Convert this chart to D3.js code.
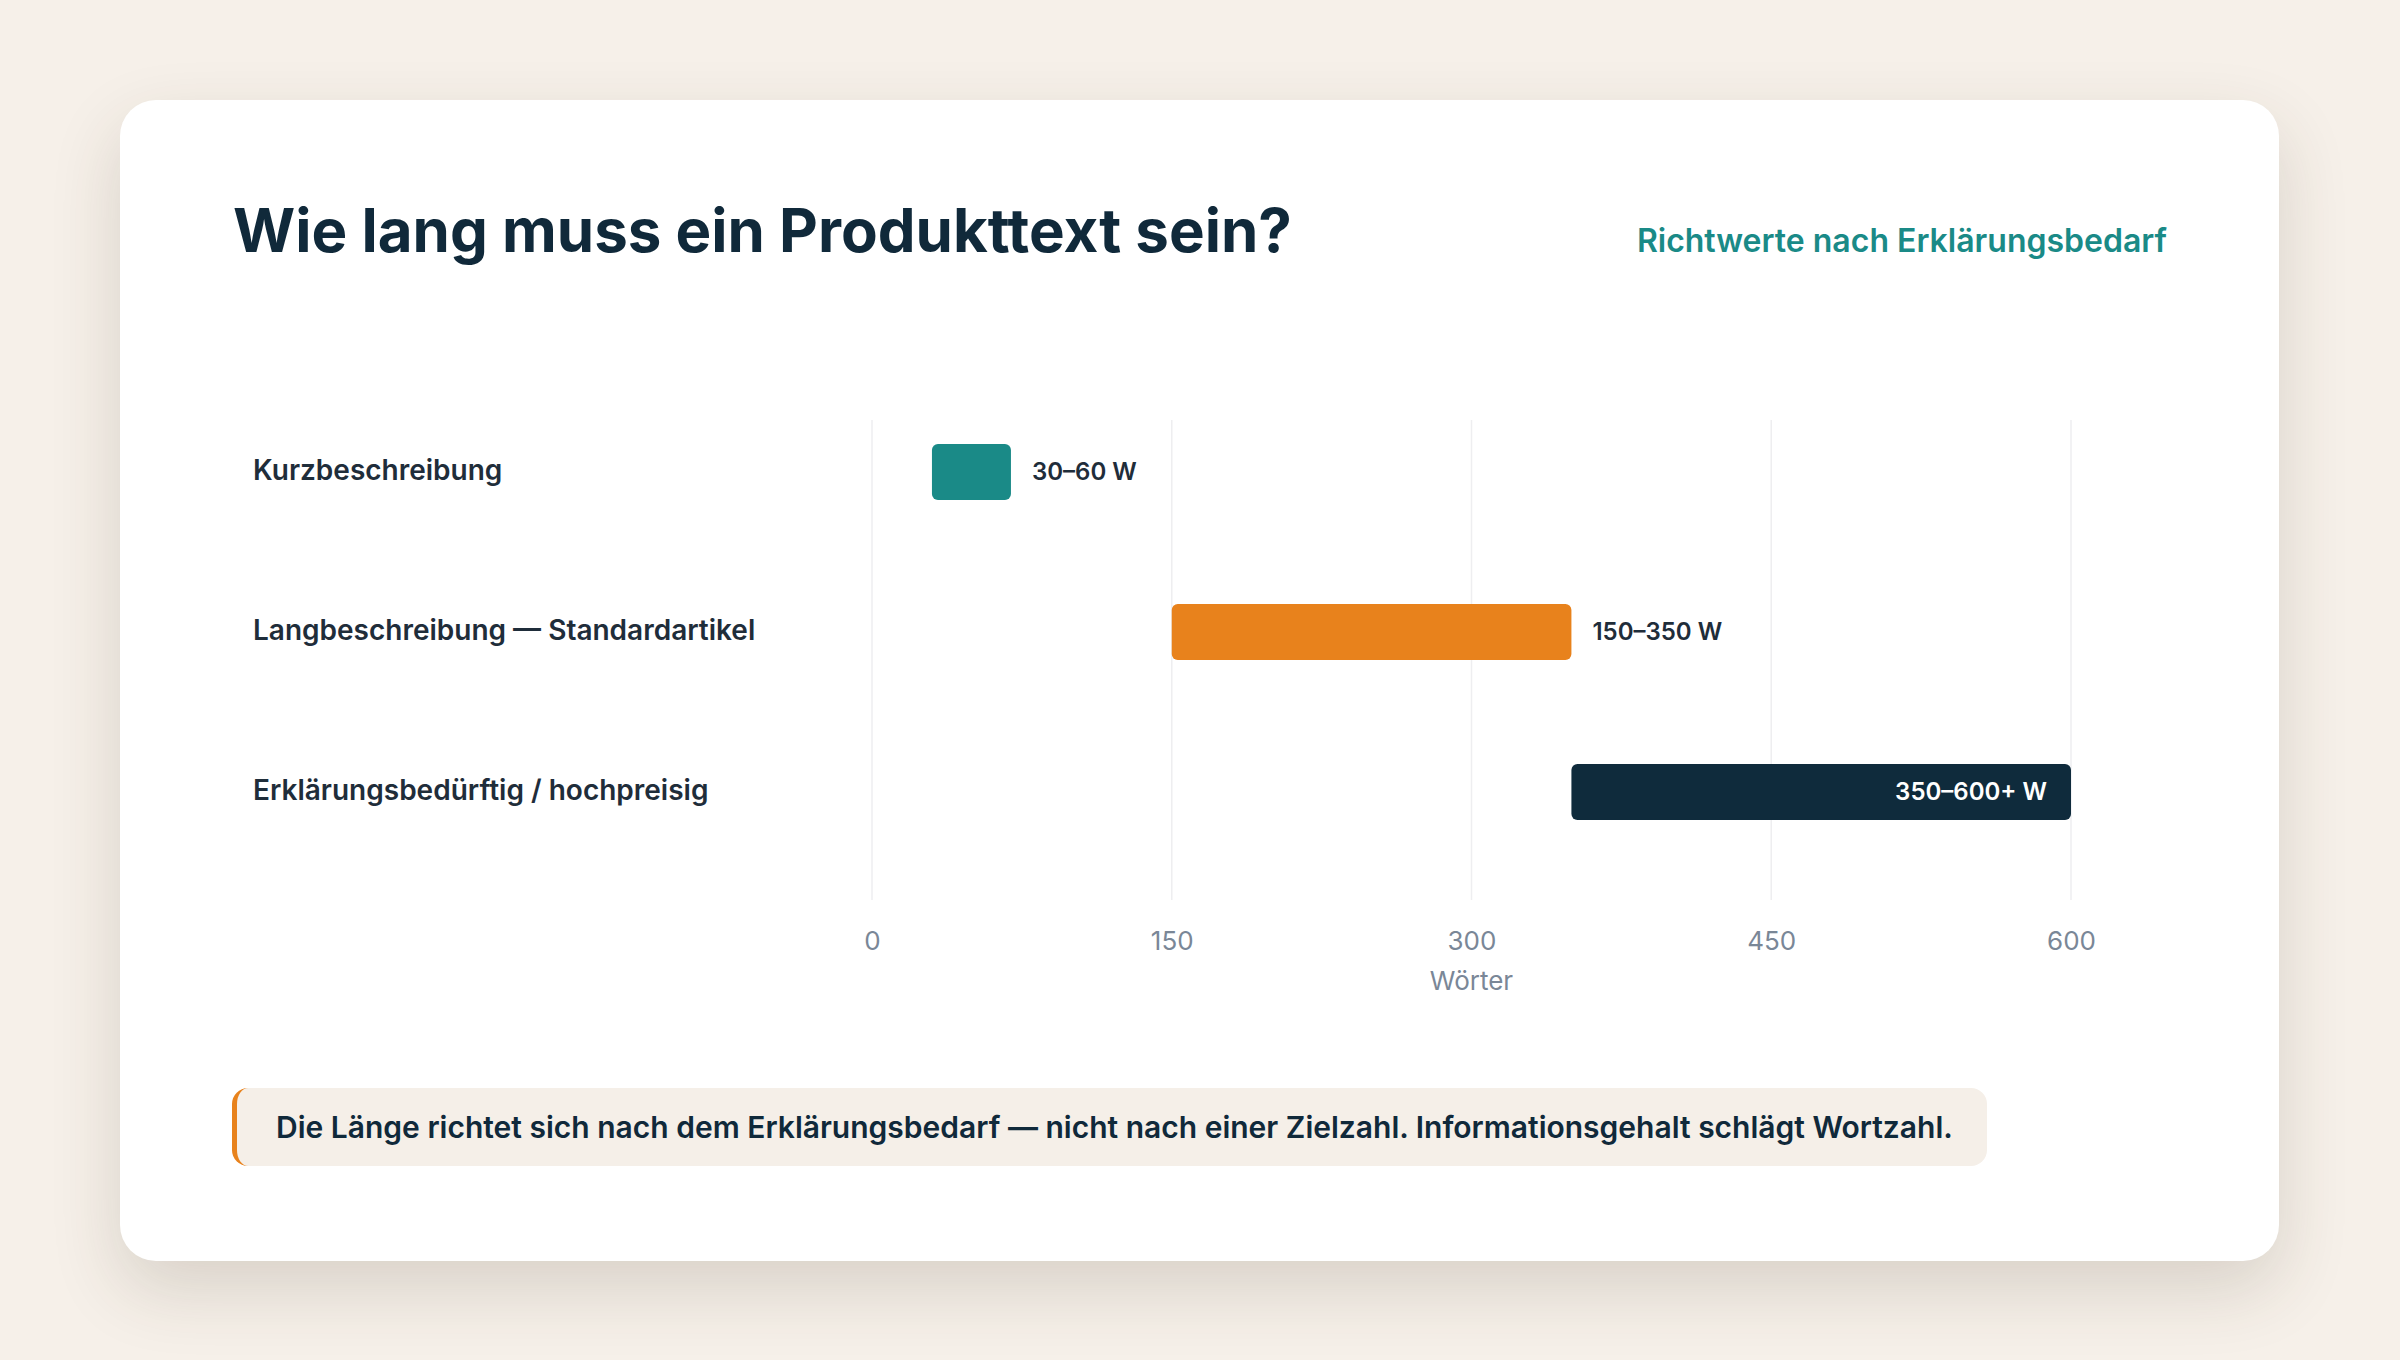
<!DOCTYPE html>
<html>
<head>
<meta charset="utf-8">
<script src="https://cdn.jsdelivr.net/npm/d3@7"></script>
<style>
  html, body { margin: 0; padding: 0; }
  body {
    width: 2400px; height: 1360px; overflow: hidden;
    background: #f6f0e9;
    font-family: Inter, "Noto Sans", sans-serif;
    position: relative;
  }
  .card {
    position: absolute; left: 120px; top: 100px;
    width: 2159px; height: 1161px;
    background: #fff; border-radius: 36px;
    box-shadow: 0 28px 70px rgba(60, 50, 30, 0.16);
  }
  .note {
    position: absolute; left: 232px; top: 1088px;
    width: 1755px; height: 78px; box-sizing: border-box;
    background: #f5efe8; border-left: 5px solid #e8821c;
    border-radius: 16px;
    padding-left: 39px;
    line-height: 78px;
    font-size: 30px; font-weight: 600; color: #10293a;
    white-space: nowrap;
  }
  svg { position: absolute; left: 0; top: 0; }
</style>
</head>
<body>
<div class="card"></div>
<div id="chart"></div>
<div class="note">Die Länge richtet sich nach dem Erklärungsbedarf — nicht nach einer Zielzahl. Informationsgehalt schlägt Wortzahl.</div>
<script>
/* Range chart: recommended word counts per product text type */

// data
const categories = ["Kurzbeschreibung", "Langbeschreibung — Standardartikel", "Erklärungsbedürftig / hochpreisig"];
const rangeStart = [30, 150, 350];
const rangeEnd = [60, 350, 600];
const rangeLabels = ["30–60 W", "150–350 W", "350–600+ W"];
const ticks = [0, 150, 300, 450, 600];
const colors = ["#1a8a87", "#e8821c", "#0f2b3c"];

const data = categories.map((c, i) => ({
    cat: c, start: rangeStart[i], end: rangeEnd[i], label: rangeLabels[i], color: colors[i]
}));

// page layout
const width = 2400,
    height = 1360,
    gridTop = 420,
    gridBottom = 900,
    minBar = 79; // short bars keep a minimum width

let svg = d3.select("#chart")
    .append("svg")
    .attr("width", width)
    .attr("height", height);

// x-scale
let x = d3.scaleLinear()
    .domain([0, 600])
    .range([872, 2071]);

// y-scale, one band per category
let y = d3.scaleBand()
    .domain(categories)
    .range([392, 872]);

// title + subtitle
svg.append("text")
    .attr("x", 233).attr("y", 252)
    .attr("font-size", 60).attr("font-weight", 700)
    .attr("fill", "#10293a")
    .text("Wie lang muss ein Produkttext sein?");

svg.append("text")
    .attr("x", 2167).attr("y", 252)
    .attr("text-anchor", "end")
    .attr("font-size", 32).attr("font-weight", 600)
    .attr("fill", "#1a8a87")
    .text("Richtwerte nach Erklärungsbedarf");

// vertical grid lines
svg.append("g")
    .selectAll("line")
    .data(ticks)
    .join("line")
    .attr("x1", d => x(d)).attr("x2", d => x(d))
    .attr("y1", gridTop).attr("y2", gridBottom)
    .attr("stroke", "#eeeef0").attr("stroke-width", 1.5);

// x axis labels
let axis = svg.append("g")
    .attr("transform", `translate(0,950)`)
    .call(d3.axisBottom(x).tickValues(ticks).tickSize(0).tickPadding(0));
axis.select(".domain").remove();
axis.selectAll("text")
    .attr("dy", null)
    .attr("y", 0)
    .attr("font-family", "Inter, sans-serif")
    .attr("font-size", 26)
    .attr("fill", "#7a8797");

svg.append("text")
    .attr("x", x(300)).attr("y", 990)
    .attr("text-anchor", "middle")
    .attr("font-size", 26)
    .attr("fill", "#7a8797")
    .text("Wörter");

// category labels
svg.append("g")
    .selectAll("text")
    .data(data)
    .join("text")
    .attr("x", 253)
    .attr("y", d => y(d.cat) + y.bandwidth() / 2 + 8)
    .attr("font-size", 28).attr("font-weight", 600)
    .attr("fill", "#1f2d3a")
    .text(d => d.cat);

// bars
let bar = svg.selectAll(".bar")
    .data(data)
    .join("g")
    .attr("class", "bar");

const barW = d => Math.max(x(d.end) - x(d.start), minBar);

bar.append("rect")
    .attr("x", d => x(d.start))
    .attr("y", d => y(d.cat) + y.bandwidth() / 2 - 28)
    .attr("width", barW)
    .attr("height", 56)
    .attr("rx", 6)
    .attr("fill", d => d.color);

// value labels: inside the last bar, outside the others
bar.append("text")
    .text(d => d.label)
    .attr("x", (d, i) => i === data.length - 1 ? x(d.start) + barW(d) - 24 : x(d.start) + barW(d) + 21)
    .attr("y", d => y(d.cat) + y.bandwidth() / 2 + 8)
    .attr("text-anchor", (d, i) => i === data.length - 1 ? "end" : "start")
    .attr("font-size", 24).attr("font-weight", 600)
    .attr("fill", (d, i) => i === data.length - 1 ? "#ffffff" : "#1f2d3a");
</script>
</body>
</html>
